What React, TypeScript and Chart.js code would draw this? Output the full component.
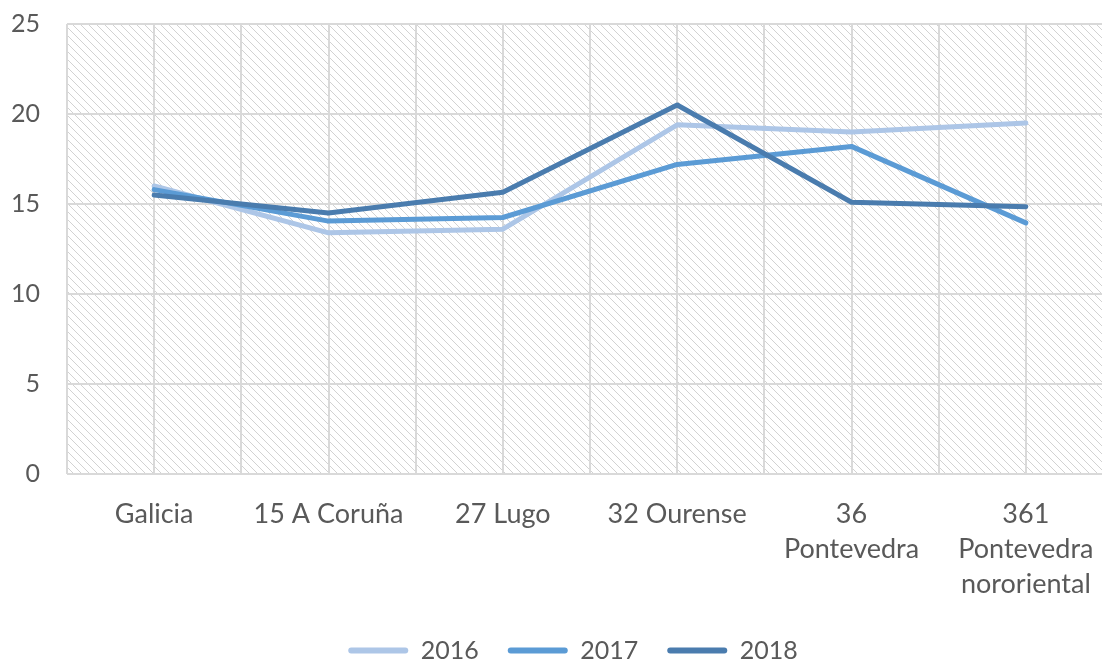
import React, { useEffect, useRef } from "react";
import { Chart, registerables } from "chart.js";

Chart.register(...registerables);

const categories: (string | string[])[] = [
  "Galicia",
  "15 A Coruña",
  "27 Lugo",
  "32 Ourense",
  ["36", "Pontevedra"],
  ["361", "Pontevedra", "nororiental"],
];
const seriesNames = ["2016", "2017", "2018"];
const values2016 = [16.0, 13.4, 13.6, 19.4, 19.0, 19.5];
const values2017 = [15.8, 14.05, 14.25, 17.2, 18.2, 13.95];
const values2018 = [15.5, 14.5, 15.65, 20.5, 15.1, 14.85];
const seriesColors = ["#adc6e7", "#5b9bd5", "#4a7cae"];
const yMin = 0;
const yMax = 25;
const yStep = 5;

const FONT = "Lato";
const TEXT = "#595959";
const GRID = "#d9d9d9";

export default function App() {
  const ref = useRef<HTMLCanvasElement | null>(null);

  useEffect(() => {
    const canvas = ref.current;
    if (!canvas) return;
    const ctx = canvas.getContext("2d");
    if (!ctx) return;

    const tile = document.createElement("canvas");
    tile.width = 8;
    tile.height = 8;
    const tg = tile.getContext("2d")!;
    tg.fillStyle = "#ffffff";
    tg.fillRect(0, 0, 8, 8);
    tg.fillStyle = "#d2d2d2";
    for (let i = 0; i < 8; i++) tg.fillRect(i, i, 1, 1);
    const pattern = ctx.createPattern(tile, "repeat");

    const background = {
      id: "hatchBackground",
      afterLayout(chart: any) {
        const lg = chart.legend;
        if (lg) {
          lg.left += 11;
          lg.right += 11;
        }
      },
      beforeDraw(chart: any) {
        const c = chart.ctx;
        const a = chart.chartArea;
        c.save();
        c.fillStyle = "#ffffff";
        c.fillRect(0, 0, chart.width, chart.height);
        if (pattern) {
          c.fillStyle = pattern;
          c.fillRect(a.left, a.top, a.right - a.left, a.bottom - a.top);
        }
        c.restore();
      },
    };

    const data = [values2016, values2017, values2018];

    const chart = new Chart(ctx, {
      type: "line",
      data: {
        labels: categories,
        datasets: seriesNames.map((name, i) => ({
          label: name,
          data: data[i],
          borderColor: seriesColors[i],
          backgroundColor: seriesColors[i],
          borderWidth: 5,
          pointRadius: 0,
          pointHoverRadius: 0,
          tension: 0,
          borderCapStyle: "round" as const,
          borderJoinStyle: "round" as const,
          fill: false,
          order: 3 - i,
        })),
      },
      options: {
        animation: false,
        responsive: false,
        devicePixelRatio: 1,
        layout: { padding: { top: 24, left: 11, right: 33, bottom: 0 } },
        plugins: {
          tooltip: { enabled: false },
          legend: {
            position: "bottom",
            labels: {
              boxWidth: 60,
              boxHeight: 6,
              padding: 29,
              color: TEXT,
              font: { family: FONT, size: 25 },
              sort: (a: any, b: any) => a.datasetIndex - b.datasetIndex,
              generateLabels: (ch: any) => {
                const items = Chart.defaults.plugins.legend.labels.generateLabels(ch);
                return items.map((it: any) => ({
                  ...it,
                  lineWidth: 0,
                  borderRadius: 3,
                }));
              },
            },
          },
        },
        scales: {
          x: {
            type: "category",
            offset: true,
            grid: { display: true, offset: false, color: GRID, lineWidth: 2, drawTicks: false },
            border: { display: false },
            ticks: {
              color: TEXT,
              font: { family: FONT, size: 27, lineHeight: 1.3 },
              padding: 23,
              maxRotation: 0,
              minRotation: 0,
              autoSkip: false,
            },
            afterFit: (s: any) => {
              s.height = 135;
              s.paddingLeft = 0;
              s.paddingRight = 0;
            },
          },
          x2: {
            type: "category",
            position: "top",
            offset: true,
            grid: { display: true, offset: true, color: GRID, lineWidth: 2, drawTicks: false },
            border: { display: false },
            ticks: { display: false },
            afterFit: (s: any) => {
              s.height = 0;
              s.paddingLeft = 0;
              s.paddingRight = 0;
            },
          },
          y: {
            min: yMin,
            max: yMax,
            grid: { color: GRID, lineWidth: 2, drawTicks: false },
            border: { display: false },
            ticks: {
              stepSize: yStep,
              color: TEXT,
              font: { family: FONT, size: 25 },
              padding: 27,
            },
            afterFit: (s: any) => {
              s.width = 56;
              s.paddingTop = 0;
              s.paddingBottom = 0;
            },
          },
        },
      },
      plugins: [background],
    });

    return () => chart.destroy();
  }, []);

  return (
    <div
      style={{
        position: "absolute",
        left: 0,
        top: 0,
        width: 1102,
        height: 660,
        overflow: "hidden",
        background: "#ffffff",
      }}
    >
      <canvas ref={ref} width={1146} height={673} style={{ display: "block" }} />
    </div>
  );
}
